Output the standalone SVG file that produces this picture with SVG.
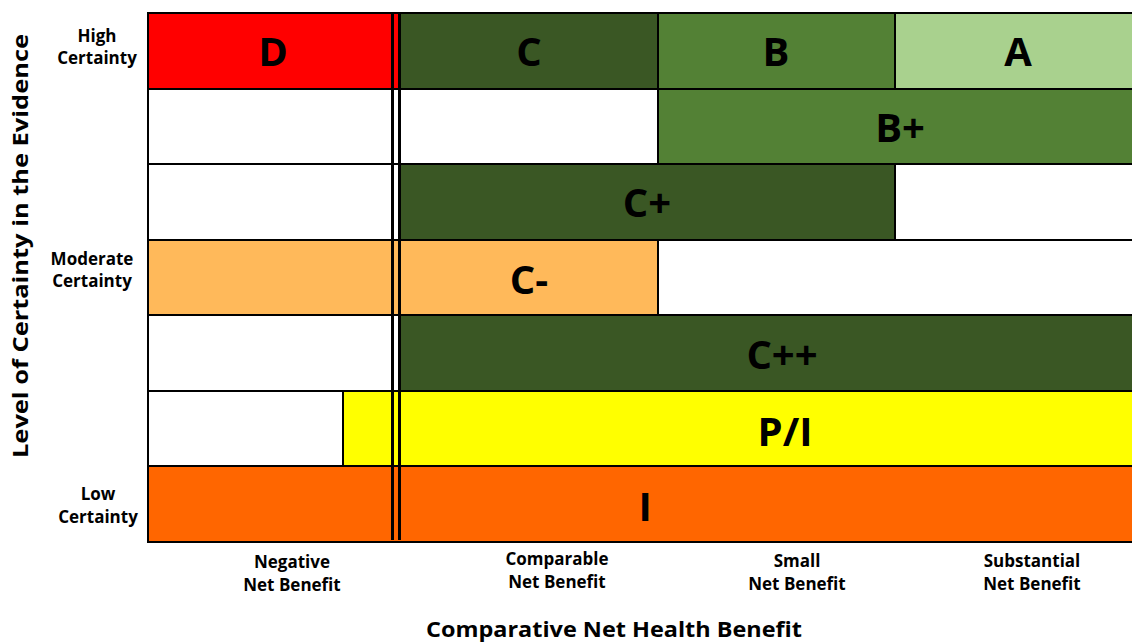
<svg xmlns="http://www.w3.org/2000/svg" width="1132" height="642" viewBox="0 0 1132 642">
<style>
.c{stroke:#000;stroke-width:2}
.big{font-family:"Open Sans","Liberation Sans",sans-serif;font-weight:bold;font-size:40px;text-anchor:middle;fill:#000}
.lbl{font-family:"Open Sans","Liberation Sans",sans-serif;font-weight:bold;font-size:17px;text-anchor:middle;fill:#000}
.ttl{font-family:"Open Sans","Liberation Sans",sans-serif;font-weight:bold;font-size:21px;text-anchor:middle;fill:#000}
.dg{fill:#3A5724}.mg{fill:#538135}.lg{fill:#A9D18E}.w{fill:#fff}.lo{fill:#FFB95A}.ye{fill:#FFFF00}.or{fill:#FF6600}.rd{fill:#FF0000}
</style>
<rect width="1132" height="642" fill="#fff"/>
<g id="row1">
<rect class="c rd" x="148" y="13" width="251" height="76"/>
<rect class="c dg" x="399" y="13" width="259" height="76"/>
<rect class="c mg" x="658" y="13" width="237" height="76"/>
<rect class="c lg" x="895" y="13" width="240" height="76"/>
<text class="big" x="273" y="66">D</text>
<text class="big" x="529" y="66">C</text>
<text class="big" x="776" y="66">B</text>
<text class="big" x="1018" y="66">A</text>
</g>
<g id="row2">
<rect class="c w" x="148" y="89" width="251" height="75"/>
<rect class="c w" x="399" y="89" width="259" height="75"/>
<rect class="c mg" x="658" y="89" width="477" height="75"/>
<text class="big" x="900" y="142">B+</text>
</g>
<g id="row3">
<rect class="c w" x="148" y="164" width="251" height="76"/>
<rect class="c dg" x="399" y="164" width="496" height="76"/>
<rect class="c w" x="895" y="164" width="240" height="76"/>
<text class="big" x="647" y="217">C+</text>
</g>
<g id="row4">
<rect class="c lo" x="148" y="240" width="251" height="75"/>
<rect class="c lo" x="399" y="240" width="259" height="75"/>
<rect class="c w" x="658" y="240" width="477" height="75"/>
<text class="big" x="529" y="294">C-</text>
</g>
<g id="row5">
<rect class="c w" x="148" y="315" width="251" height="76"/>
<rect class="c dg" x="399" y="315" width="736" height="76"/>
<text class="big" x="782" y="369">C++</text>
</g>
<g id="row6">
<rect class="c w" x="148" y="391" width="195" height="75"/>
<rect class="c ye" x="343" y="391" width="792" height="75"/>
<text class="big" x="785" y="446">P/I</text>
</g>
<g id="row7">
<rect class="c or" x="148" y="466" width="987" height="76"/>
<text class="big" x="645" y="521">I</text>
</g>
<g id="divider">
<line x1="392.5" y1="13" x2="392.5" y2="540" stroke="#000" stroke-width="3"/>
<line x1="399.5" y1="13" x2="399.5" y2="540" stroke="#000" stroke-width="3"/>
</g>
<g id="ylabels">
<text class="lbl" x="97" y="42">High</text>
<text class="lbl" x="97" y="64">Certainty</text>
<text class="lbl" x="92" y="265">Moderate</text>
<text class="lbl" x="92" y="287">Certainty</text>
<text class="lbl" x="98" y="500">Low</text>
<text class="lbl" x="98" y="523">Certainty</text>
</g>
<g id="xlabels">
<text class="lbl" x="292" y="568">Negative</text>
<text class="lbl" x="292" y="591">Net Benefit</text>
<text class="lbl" x="557" y="565">Comparable</text>
<text class="lbl" x="557" y="588">Net Benefit</text>
<text class="lbl" x="797" y="567">Small</text>
<text class="lbl" x="797" y="590">Net Benefit</text>
<text class="lbl" x="1032" y="567">Substantial</text>
<text class="lbl" x="1032" y="590">Net Benefit</text>
</g>
<g id="titles">
<text class="ttl" x="614" y="637" textLength="376" lengthAdjust="spacingAndGlyphs">Comparative Net Health Benefit</text>
<text class="ttl" transform="translate(28,246) rotate(-90)" x="0" y="0" textLength="424" lengthAdjust="spacingAndGlyphs">Level of Certainty in the Evidence</text>
</g>
</svg>
